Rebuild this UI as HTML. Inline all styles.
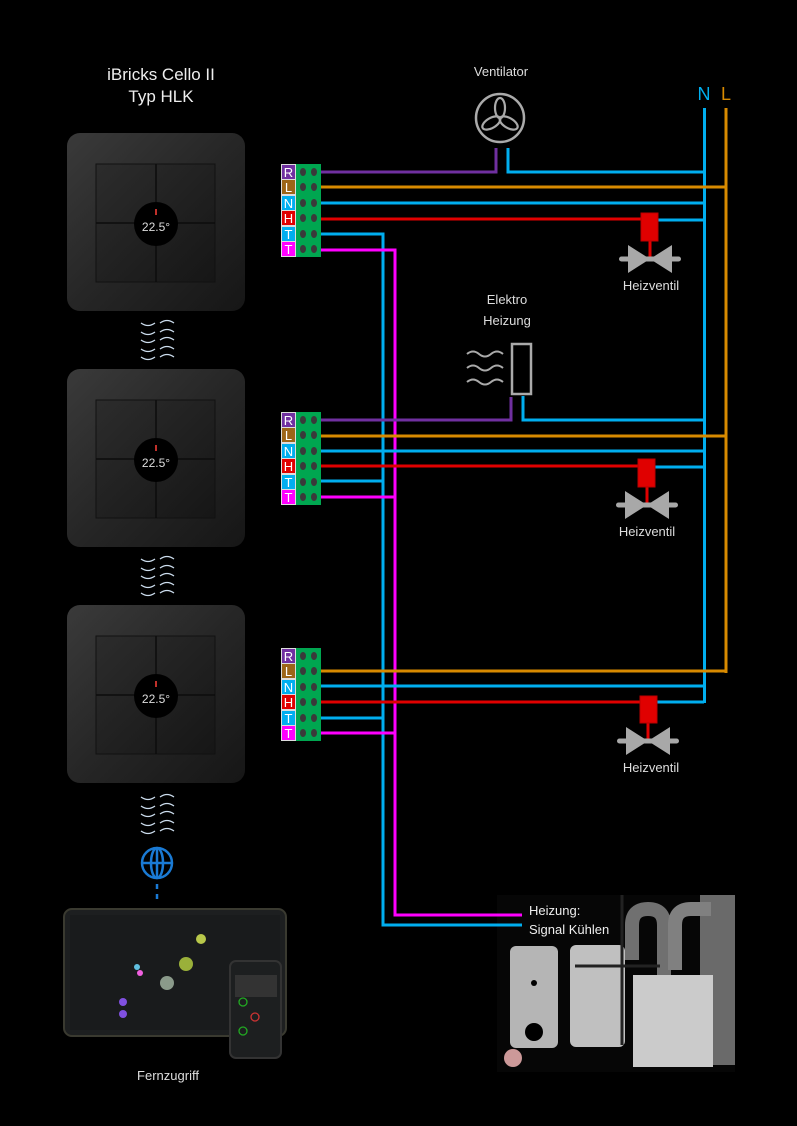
<!DOCTYPE html>
<html><head><meta charset="utf-8"><style>
html,body{margin:0;padding:0;background:#000;}
svg{display:block}
text{font-family:"Liberation Sans",sans-serif;}
</style></head><body>
<svg width="797" height="1126" viewBox="0 0 797 1126" xmlns="http://www.w3.org/2000/svg">
<defs>
<linearGradient id="plate" x1="0" y1="0" x2="1" y2="1">
<stop offset="0" stop-color="#3a3a3a"/><stop offset="0.5" stop-color="#262626"/><stop offset="1" stop-color="#161616"/>
</linearGradient>
<linearGradient id="inner" x1="0" y1="0" x2="1" y2="1">
<stop offset="0" stop-color="#2c2c2c"/><stop offset="1" stop-color="#161616"/>
</linearGradient>
<g id="dev">
<rect x="0" y="0" width="178" height="178" rx="13" fill="url(#plate)"/>
<rect x="29" y="31" width="119" height="118" fill="url(#inner)" stroke="#111" stroke-width="1"/>
<line x1="89" y1="31" x2="89" y2="149" stroke="#0c0c0c" stroke-width="1.5"/>
<line x1="29" y1="90" x2="148" y2="90" stroke="#0c0c0c" stroke-width="1.5"/>
<circle cx="89" cy="91" r="22" fill="#000"/>
<rect x="88" y="76" width="2" height="6" fill="#c0302a"/>
<text x="89" y="98" font-size="12" fill="#ddd" text-anchor="middle">22.5°</text>
</g>
<g id="sq">
<path d="M141 0 q7 5 14 0" stroke="#cde" stroke-width="1.3" fill="none"/>
<path d="M160 0 q7 -5 14 0" stroke="#cde" stroke-width="1.3" fill="none"/>
</g>
<g id="valve">
<rect x="-31" y="-2.5" width="62" height="5" rx="2.5" fill="#a8a8a8"/>
<polygon points="-22,-14 0,0 -22,14" fill="#a8a8a8"/>
<polygon points="22,-14 0,0 22,14" fill="#a8a8a8"/>
</g>
<g id="tb">
<rect x="296" y="0" width="25" height="93" fill="#00a650"/>
<rect x="281" y="0" width="15" height="93" fill="#ddd"/>
<rect x="282" y="1" width="13" height="14" fill="#7030a0"/>
<rect x="282" y="16" width="13" height="14" fill="#9c6518"/>
<rect x="282" y="32" width="13" height="14" fill="#00aeef"/>
<rect x="282" y="47" width="13" height="14" fill="#e00000"/>
<rect x="282" y="63" width="13" height="14" fill="#00aeef"/>
<rect x="282" y="78" width="13" height="14" fill="#ff00ff"/>
<g font-size="13" fill="#fff" text-anchor="middle">
<text x="288.5" y="13">R</text><text x="288.5" y="28">L</text><text x="288.5" y="44">N</text>
<text x="288.5" y="59">H</text><text x="288.5" y="75">T</text><text x="288.5" y="90">T</text>
</g>
<g fill="#3a3a3a">
<ellipse cx="303" cy="8" rx="3" ry="4"/><ellipse cx="314" cy="8" rx="3" ry="4"/>
<ellipse cx="303" cy="23" rx="3" ry="4"/><ellipse cx="314" cy="23" rx="3" ry="4"/>
<ellipse cx="303" cy="39" rx="3" ry="4"/><ellipse cx="314" cy="39" rx="3" ry="4"/>
<ellipse cx="303" cy="54" rx="3" ry="4"/><ellipse cx="314" cy="54" rx="3" ry="4"/>
<ellipse cx="303" cy="70" rx="3" ry="4"/><ellipse cx="314" cy="70" rx="3" ry="4"/>
<ellipse cx="303" cy="85" rx="3" ry="4"/><ellipse cx="314" cy="85" rx="3" ry="4"/>
</g>
</g>
</defs>

<text x="161" y="80" font-size="17" fill="#eee" text-anchor="middle">iBricks Cello II</text>
<text x="161" y="102" font-size="17" fill="#eee" text-anchor="middle">Typ HLK</text>

<use href="#dev" x="67" y="133"/>
<use href="#dev" x="67" y="369"/>
<use href="#dev" x="67" y="605"/>

<use href="#sq" y="323"/><use href="#sq" y="332"/><use href="#sq" y="340"/><use href="#sq" y="349"/><use href="#sq" y="357"/>
<use href="#sq" y="559"/><use href="#sq" y="568"/><use href="#sq" y="576"/><use href="#sq" y="585"/><use href="#sq" y="593"/>
<use href="#sq" y="797"/><use href="#sq" y="806"/><use href="#sq" y="814"/><use href="#sq" y="823"/><use href="#sq" y="831"/>

<!-- globe -->
<g stroke="#1a7ad4" stroke-width="2.5" fill="none">
<circle cx="157" cy="863" r="15"/>
<ellipse cx="157" cy="863" rx="6" ry="15"/>
<line x1="142" y1="863" x2="172" y2="863"/>
<line x1="157" y1="848" x2="157" y2="878"/>
<line x1="157" y1="884" x2="157" y2="889"/><line x1="157" y1="894" x2="157" y2="899"/>
</g>

<!-- tablet -->
<rect x="64" y="909" width="222" height="127" rx="8" fill="#1d1f20" stroke="#3a3a30" stroke-width="2"/>
<rect x="70" y="915" width="210" height="115" fill="#191b1c"/>
<circle cx="201" cy="939" r="5" fill="#b8c84a"/><circle cx="186" cy="964" r="7" fill="#9ab03a"/>
<circle cx="167" cy="983" r="7" fill="#8a9a8a"/><circle cx="123" cy="1002" r="4" fill="#8050e0"/><circle cx="123" cy="1014" r="4" fill="#8050e0"/>
<circle cx="140" cy="973" r="3" fill="#f060e0"/><circle cx="137" cy="967" r="3" fill="#60c0e0"/>
<rect x="230" y="961" width="51" height="97" rx="6" fill="#1d1f20" stroke="#333" stroke-width="2"/>
<rect x="235" y="975" width="42" height="22" fill="#333"/>
<circle cx="243" cy="1002" r="4" fill="none" stroke="#2a2" stroke-width="1.3"/>
<circle cx="255" cy="1017" r="4" fill="none" stroke="#c33" stroke-width="1.3"/>
<circle cx="243" cy="1031" r="4" fill="none" stroke="#2a2" stroke-width="1.3"/>
<text x="168" y="1080" font-size="13" fill="#ddd" text-anchor="middle">Fernzugriff</text>

<!-- heating appliance -->
<rect x="497" y="895" width="238" height="177" fill="#060606"/>
<rect x="700" y="895" width="35" height="170" fill="#6a6a6a"/>
<path d="M632 960 L632 925 q0 -16 16 -16 q16 0 16 16 L664 975" stroke="#707070" stroke-width="14" fill="none"/>
<path d="M675 970 L675 925 q0 -16 16 -16 l20 0" stroke="#808080" stroke-width="14" fill="none"/>
<rect x="510" y="946" width="48" height="102" rx="6" fill="#b5b5b5"/>
<circle cx="534" cy="1032" r="9" fill="#000"/><circle cx="534" cy="983" r="3" fill="#000"/>
<rect x="570" y="945" width="55" height="102" rx="6" fill="#c0c0c0"/>
<rect x="633" y="975" width="80" height="92" fill="#cbcbcb"/>
<line x1="622" y1="895" x2="622" y2="1045" stroke="#222" stroke-width="3"/>
<line x1="575" y1="966" x2="660" y2="966" stroke="#222" stroke-width="3"/>
<circle cx="513" cy="1058" r="9" fill="#c99"/>

<!-- wires -->
<g fill="none" stroke-width="3">
<line x1="704.5" y1="108" x2="704.5" y2="703" stroke="#00aeef"/>
<line x1="726" y1="108" x2="726" y2="673" stroke="#d88a00"/>
<path d="M314 234 H383 V925 H522" stroke="#00aeef"/>
<path d="M314 250 H395 V915 H522" stroke="#ff00ff"/>
<path d="M314 172 H496 V148" stroke="#7030a0"/>
<path d="M508 148 V172 H704" stroke="#00aeef"/>
<line x1="314" y1="187" x2="726" y2="187" stroke="#d88a00"/>
<line x1="314" y1="203" x2="704" y2="203" stroke="#00aeef"/>
<line x1="314" y1="219" x2="645" y2="219" stroke="#e00000"/>
<line x1="655" y1="220" x2="704" y2="220" stroke="#00aeef"/>
<path d="M314 420 H511 V397" stroke="#7030a0"/>
<path d="M523 396 V420 H704" stroke="#00aeef"/>
<line x1="314" y1="436" x2="726" y2="436" stroke="#d88a00"/>
<line x1="314" y1="451" x2="704" y2="451" stroke="#00aeef"/>
<line x1="314" y1="466" x2="645" y2="466" stroke="#e00000"/>
<line x1="652" y1="467" x2="704" y2="467" stroke="#00aeef"/>
<line x1="314" y1="481" x2="383" y2="481" stroke="#00aeef"/>
<line x1="314" y1="497" x2="395" y2="497" stroke="#ff00ff"/>
<line x1="314" y1="671" x2="726" y2="671" stroke="#d88a00"/>
<line x1="314" y1="686" x2="704" y2="686" stroke="#00aeef"/>
<line x1="314" y1="702" x2="645" y2="702" stroke="#e00000"/>
<line x1="655" y1="702" x2="704" y2="702" stroke="#00aeef"/>
<line x1="314" y1="718" x2="383" y2="718" stroke="#00aeef"/>
<line x1="314" y1="733" x2="395" y2="733" stroke="#ff00ff"/>
</g>

<use href="#tb" y="164"/>
<use href="#tb" y="412"/>
<use href="#tb" y="648"/>

<text x="704" y="100" font-size="18" fill="#00aeef" text-anchor="middle">N</text>
<text x="726" y="100" font-size="18" fill="#d88a00" text-anchor="middle">L</text>

<!-- fan -->
<text x="501" y="76" font-size="13" fill="#ddd" text-anchor="middle">Ventilator</text>
<circle cx="500" cy="118" r="24" stroke="#aaa" stroke-width="2.5" fill="none"/>
<g stroke="#aaa" stroke-width="2.2" fill="none">
<ellipse cx="500" cy="108" rx="5" ry="10"/>
<ellipse cx="500" cy="108" rx="5" ry="10" transform="rotate(120 500 118)"/>
<ellipse cx="500" cy="108" rx="5" ry="10" transform="rotate(240 500 118)"/>
</g>

<!-- heater -->
<text x="507" y="304" font-size="13" fill="#ddd" text-anchor="middle">Elektro</text>
<text x="507" y="325" font-size="13" fill="#ddd" text-anchor="middle">Heizung</text>
<rect x="512" y="344" width="19" height="50" stroke="#aaa" stroke-width="2.5" fill="none"/>
<g stroke="#aaa" stroke-width="2" fill="none">
<path d="M467 354 q6 -5 12 0 q6 5 12 0 q6 -5 12 0"/>
<path d="M467 368 q6 -5 12 0 q6 5 12 0 q6 -5 12 0"/>
<path d="M467 382 q6 -5 12 0 q6 5 12 0 q6 -5 12 0"/>
</g>

<!-- valves -->
<line x1="650" y1="240" x2="650" y2="259" stroke="#e00000" stroke-width="3"/>
<use href="#valve" x="650" y="259"/>
<rect x="641" y="213" width="17" height="28" fill="#e00000" stroke="#b00" stroke-width="1"/>
<text x="651" y="290" font-size="13" fill="#ddd" text-anchor="middle">Heizventil</text>

<line x1="647" y1="486" x2="647" y2="505" stroke="#e00000" stroke-width="3"/>
<use href="#valve" x="647" y="505"/>
<rect x="638" y="459" width="17" height="28" fill="#e00000" stroke="#b00" stroke-width="1"/>
<text x="647" y="536" font-size="13" fill="#ddd" text-anchor="middle">Heizventil</text>

<line x1="648" y1="722" x2="648" y2="741" stroke="#e00000" stroke-width="3"/>
<use href="#valve" x="648" y="741"/>
<rect x="640" y="696" width="17" height="27" fill="#e00000" stroke="#b00" stroke-width="1"/>
<text x="651" y="772" font-size="13" fill="#ddd" text-anchor="middle">Heizventil</text>

<text x="529" y="915" font-size="13" fill="#eee">Heizung:</text>
<text x="529" y="934" font-size="13" fill="#eee">Signal Kühlen</text>
</svg>
</body></html>
